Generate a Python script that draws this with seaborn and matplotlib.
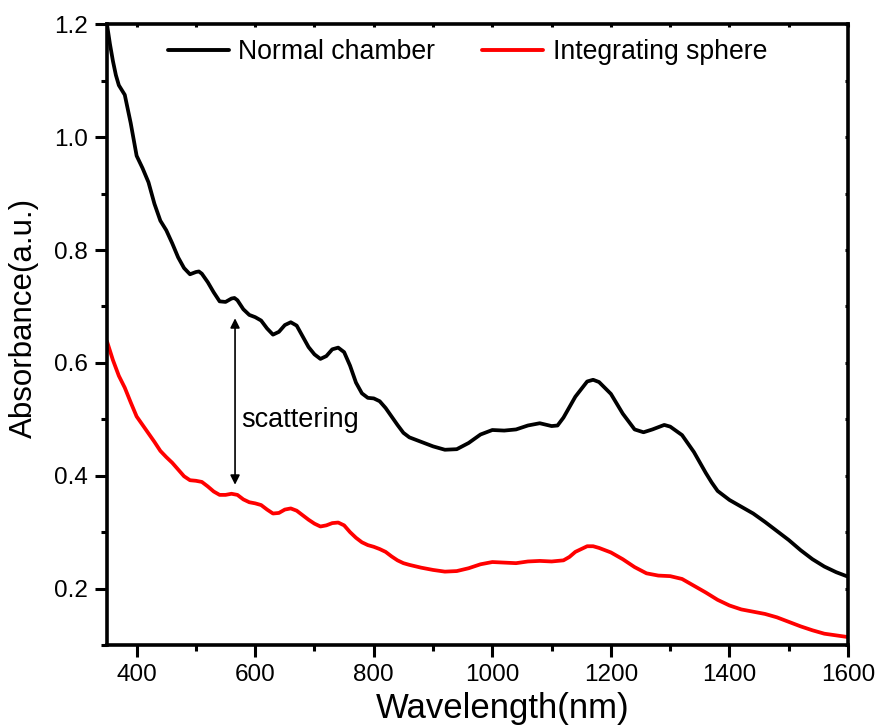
import numpy as np
import pandas as pd
import matplotlib
matplotlib.use("Agg")
import matplotlib.pyplot as plt
from matplotlib.ticker import MultipleLocator
import seaborn as sns

# ---- data ----
wl_normal = [350, 355, 360, 365, 370, 380, 390, 400, 410, 420, 430, 440, 450, 460, 470, 480, 490,
             500, 505, 510, 520, 530, 540, 550, 560, 565, 570, 580, 590, 600, 610, 620, 630,
             640, 650, 660, 670, 680, 690, 700, 710, 720, 730, 740, 750, 760, 770, 780, 790,
             800, 810, 820, 830, 840, 850, 860, 880, 900, 920, 940, 960, 980, 1000, 1020,
             1040, 1060, 1080, 1100, 1110, 1120, 1140, 1160, 1170, 1180, 1200, 1220, 1240,
             1255, 1270, 1290, 1300, 1320, 1340, 1360, 1370, 1380, 1400, 1420, 1440, 1460,
             1480, 1500, 1520, 1540, 1560, 1580, 1600]
abs_normal = [1.20, 1.165, 1.135, 1.11, 1.092, 1.075, 1.025, 0.967, 0.945, 0.92, 0.882, 0.852,
              0.835, 0.812, 0.787, 0.768, 0.757, 0.761, 0.762, 0.758, 0.743, 0.725, 0.709,
              0.708, 0.714, 0.715, 0.711, 0.695, 0.685, 0.681, 0.675, 0.661, 0.650, 0.655,
              0.667, 0.672, 0.666, 0.647, 0.628, 0.615, 0.607, 0.612, 0.624, 0.627, 0.619,
              0.595, 0.565, 0.546, 0.538, 0.537, 0.532, 0.52, 0.505, 0.49, 0.476, 0.468,
              0.460, 0.452, 0.446, 0.447, 0.458, 0.473, 0.481, 0.480, 0.482, 0.489, 0.493,
              0.488, 0.489, 0.503, 0.540, 0.567, 0.570, 0.566, 0.545, 0.510, 0.482, 0.477,
              0.482, 0.490, 0.487, 0.472, 0.442, 0.405, 0.388, 0.373, 0.357, 0.345, 0.333,
              0.318, 0.302, 0.286, 0.268, 0.252, 0.239, 0.229, 0.221]

wl_sphere = [350, 360, 370, 380, 390, 400, 410, 420, 430, 440, 450, 460, 470, 480, 490, 500,
             510, 520, 530, 540, 550, 560, 570, 580, 590, 600, 610, 620, 630, 640, 650, 660,
             670, 680, 690, 700, 710, 720, 730, 740, 750, 760, 770, 780, 790, 800, 810, 820,
             830, 840, 850, 860, 880, 900, 920, 940, 960, 980, 1000, 1020, 1040, 1060, 1080,
             1100, 1120, 1130, 1140, 1160, 1170, 1180, 1200, 1220, 1240, 1260, 1280, 1300,
             1320, 1340, 1360, 1380, 1400, 1420, 1440, 1460, 1480, 1500, 1520, 1540, 1560,
             1580, 1600]
abs_sphere = [0.638, 0.605, 0.577, 0.556, 0.530, 0.505, 0.490, 0.475, 0.460, 0.444, 0.433,
              0.423, 0.411, 0.399, 0.392, 0.391, 0.389, 0.381, 0.372, 0.366, 0.366, 0.368,
              0.366, 0.358, 0.353, 0.351, 0.348, 0.340, 0.333, 0.334, 0.340, 0.342, 0.338,
              0.330, 0.322, 0.315, 0.310, 0.312, 0.316, 0.317, 0.312, 0.300, 0.290, 0.282,
              0.277, 0.274, 0.270, 0.265, 0.257, 0.250, 0.245, 0.242, 0.237, 0.233, 0.230,
              0.231, 0.236, 0.243, 0.247, 0.246, 0.245, 0.248, 0.249, 0.248, 0.250, 0.256,
              0.265, 0.275, 0.275, 0.272, 0.264, 0.252, 0.238, 0.227, 0.223, 0.222, 0.217,
              0.205, 0.193, 0.180, 0.170, 0.163, 0.159, 0.155, 0.149, 0.141, 0.133, 0.126,
              0.120, 0.117, 0.114]

series_names = ["Normal chamber", "Integrating sphere"]
series_colors = ["#000000", "#ff0000"]
x_ticks = [400, 600, 800, 1000, 1200, 1400, 1600]
y_ticks = [0.2, 0.4, 0.6, 0.8, 1.0, 1.2]
arrow_x = 566
arrow_y = [0.679, 0.384]
annot_text = "scattering"

df = pd.concat([
    pd.DataFrame({"Wavelength": wl_normal, "Absorbance": abs_normal, "Series": series_names[0]}),
    pd.DataFrame({"Wavelength": wl_sphere, "Absorbance": abs_sphere, "Series": series_names[1]}),
], ignore_index=True)

sns.set_style("ticks")
plt.rcParams["font.family"] = ["Liberation Sans", "DejaVu Sans"]
plt.rcParams["lines.solid_joinstyle"] = "round"
plt.rcParams["text.color"] = "black"
plt.rcParams["axes.labelcolor"] = "black"

fig = plt.figure(figsize=(8.82, 7.26), dpi=100)
ax = fig.add_axes([0.1213, 0.1116, 0.8402, 0.8549])

sns.lineplot(data=df, x="Wavelength", y="Absorbance", hue="Series",
             palette=dict(zip(series_names, series_colors)), linewidth=2.7,
             ax=ax, sort=False, estimator=None)

ax.set_xlim(350, 1600)
ax.set_ylim(0.1, 1.2)
ax.set_xticks(x_ticks)
ax.set_yticks(y_ticks)
ax.xaxis.set_minor_locator(MultipleLocator(100))
ax.yaxis.set_minor_locator(MultipleLocator(0.1))
ax.set_yticklabels([f"{v:.1f}" for v in y_ticks])

for s in ax.spines.values():
    s.set_linewidth(2.6)
    s.set_color("black")

ax.tick_params(axis="both", which="major", direction="out", length=8.5, width=2.2,
               labelsize=17.5, colors="black", pad=5)
ax.tick_params(axis="both", which="minor", direction="out", length=4.5, width=2.2,
               colors="black")
ax.tick_params(top=True, right=True, which="both", labeltop=False, labelright=False)
for t in ax.xaxis.get_major_ticks() + ax.xaxis.get_minor_ticks():
    t.tick2line.set_markersize(2.5)
    t.tick2line.set_marker(3)
for t in ax.yaxis.get_major_ticks() + ax.yaxis.get_minor_ticks():
    t.tick2line.set_markersize(2.5)
    t.tick2line.set_marker(0)

ax.set_xlabel("Wavelength(nm)", fontsize=25, color="black")
ax.set_ylabel("Absorbance(a.u.)", fontsize=22.5, color="black")
ax.xaxis.set_label_coords(0.534, -0.076)
ax.yaxis.set_label_coords(-0.092, 0.527)

ax.annotate("", xy=(arrow_x, arrow_y[0]), xytext=(arrow_x, arrow_y[1]),
            arrowprops=dict(arrowstyle="<|-|>", color="black", lw=1.2,
                            mutation_scale=14, shrinkA=0, shrinkB=0))
ax.text(arrow_x + 10, 0.499, annot_text, fontsize=19.5, va="center", ha="left",
        color="black")

leg = ax.legend(loc="center left", bbox_to_anchor=(0.082, 0.955), ncol=2, frameon=False,
                fontsize=19.2, handlelength=2.3, handletextpad=0.35, columnspacing=1.75,
                borderpad=0, borderaxespad=0, labelcolor="black")
for line in leg.get_lines():
    line.set_linewidth(2.8)

fig.savefig("out.png", dpi=100)
